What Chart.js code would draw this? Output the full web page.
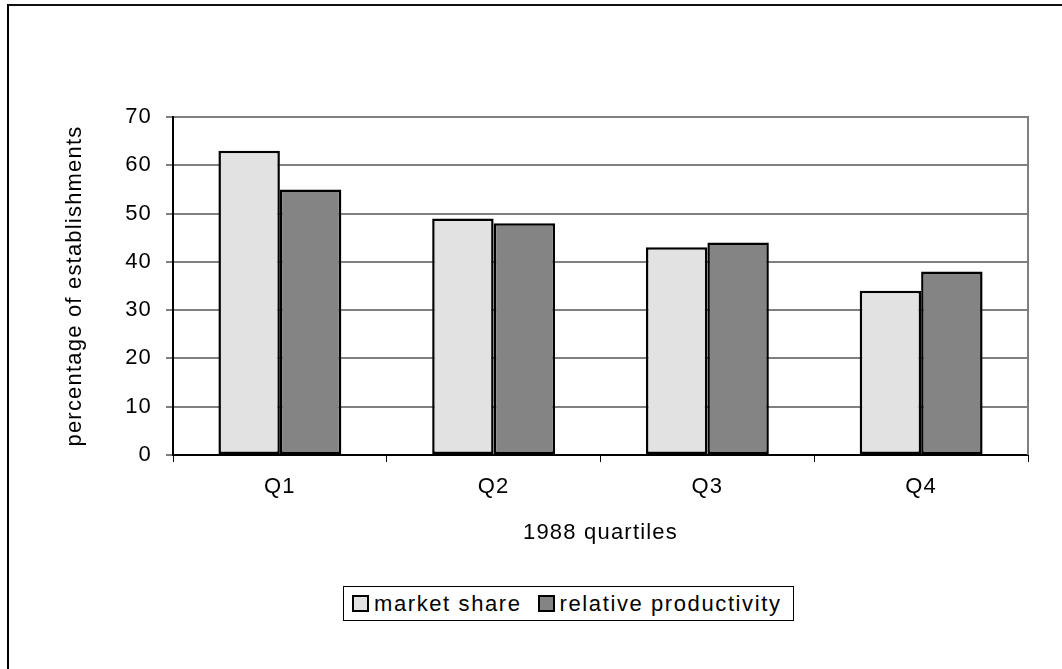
<!DOCTYPE html>
<html>
<head>
<meta charset="utf-8">
<script src="https://cdn.jsdelivr.net/npm/chart.js@4.4.1/dist/chart.umd.min.js"></script>
<style>
  body { margin: 0; background: #fff; overflow: hidden; }
  #wrap { position: relative; width: 1062px; height: 669px; }
  #frame { position: absolute; left: 7px; top: 4px; width: 2000px; height: 2000px;
           border-top: 2px solid #111; border-left: 2px solid #000; }
  #legend { position: absolute; left: 343px; top: 586px; width: 451px; height: 35px;
            box-sizing: border-box; border: 1px solid #000; background: #fff;
            display: flex; align-items: center; padding-left: 8px; white-space: nowrap;
            overflow: hidden;
            font-family: "Liberation Sans", Arial, sans-serif; font-size: 22px;
            letter-spacing: 1.6px; color: #000; }
  #legend .item { display: flex; align-items: center; flex-shrink: 0; margin-right: 16px; }
  #legend .box { width: 17px; height: 17px; box-sizing: border-box; border: 2px solid #000;
                 flex-shrink: 0; margin-right: 5px; }
</style>
</head>
<body>
<div id="wrap">
  <div id="frame"></div>
  <canvas id="chart"></canvas>
  <div id="legend"></div>
</div>
<script>
// chart data
var quartiles = ['Q1', 'Q2', 'Q3', 'Q4'];
var marketShare = [63, 49, 43, 34];
var relativeProductivity = [55, 48, 44, 38];
var seriesNames = ['market share', 'relative productivity'];
var seriesColors = ['#e2e2e2', '#848484'];
var yMax = 70;
var yStep = 10;

var fontFamily = '"Liberation Sans", Arial, sans-serif';

// spread the letters a little, like the original
var spacingPlugin = {
    id: 'spacing',
    beforeLayout: function (chart) { chart.ctx.letterSpacing = '1.2px'; },
    beforeDraw: function (chart) { chart.ctx.letterSpacing = '1.2px'; }
};

// gray line on the right side of the plot area
var frameRightPlugin = {
    id: 'frameRight',
    afterDraw: function (chart) {
        var a = chart.chartArea;
        var ctx = chart.ctx;
        ctx.save();
        ctx.strokeStyle = '#808080';
        ctx.lineWidth = 2;
        ctx.beginPath();
        ctx.moveTo(a.right, a.top - 1);
        ctx.lineTo(a.right, a.bottom);
        ctx.stroke();
        ctx.restore();
    }
};

var canvas = document.getElementById('chart');
canvas.width = 1062;
canvas.height = 669;

var chart = new Chart(canvas.getContext('2d'), {
    type: 'bar',
    data: {
        labels: quartiles,
        datasets: [
            { label: seriesNames[0], data: marketShare, backgroundColor: seriesColors[0] },
            { label: seriesNames[1], data: relativeProductivity, backgroundColor: seriesColors[1] }
        ]
    },
    options: {
        responsive: false,
        animation: false,
        devicePixelRatio: 1,
        layout: { padding: { left: 0, top: 117, right: 34, bottom: 0 } },
        datasets: {
            bar: {
                borderColor: '#000',
                borderWidth: 2.5,
                borderSkipped: false,
                categoryPercentage: 0.575,
                barPercentage: 1
            }
        },
        plugins: {
            legend: { display: false },
            tooltip: { enabled: false }
        },
        scales: {
            x: {
                afterFit: function (scale) { scale.height = 214; },
                grid: {
                    display: true,
                    drawOnChartArea: false,
                    offset: true,
                    tickLength: 7,
                    tickColor: '#000',
                    tickWidth: 1
                },
                border: { color: '#000', width: 2 },
                ticks: {
                    color: '#000',
                    padding: 12,
                    font: { family: fontFamily, size: 22 }
                },
                title: {
                    display: true,
                    text: '1988 quartiles',
                    color: '#000',
                    padding: { top: 0, bottom: 123 },
                    font: { family: fontFamily, size: 22 }
                }
            },
            y: {
                min: 0,
                max: yMax,
                afterFit: function (scale) { scale.width = 173; },
                grid: {
                    color: function (c) { return c.tick && c.tick.value === 0 ? '#000' : '#808080'; },
                    lineWidth: 2,
                    tickLength: 7,
                    tickColor: '#000',
                    tickWidth: 1
                },
                border: { color: '#000', width: 2 },
                ticks: {
                    stepSize: yStep,
                    color: '#000',
                    padding: 14,
                    font: { family: fontFamily, size: 22 }
                },
                title: {
                    display: true,
                    text: 'percentage of establishments',
                    color: '#000',
                    padding: { top: 62, bottom: 0 },
                    font: { family: fontFamily, size: 22 }
                }
            }
        }
    },
    plugins: [spacingPlugin, frameRightPlugin]
});

// legend box below the chart, built from the series names
var legend = document.getElementById('legend');
seriesNames.forEach(function (name, i) {
    var item = document.createElement('span');
    item.className = 'item';
    var box = document.createElement('span');
    box.className = 'box';
    box.style.background = seriesColors[i];
    var text = document.createElement('span');
    text.textContent = name;
    item.appendChild(box);
    item.appendChild(text);
    legend.appendChild(item);
});
</script>
</body>
</html>
